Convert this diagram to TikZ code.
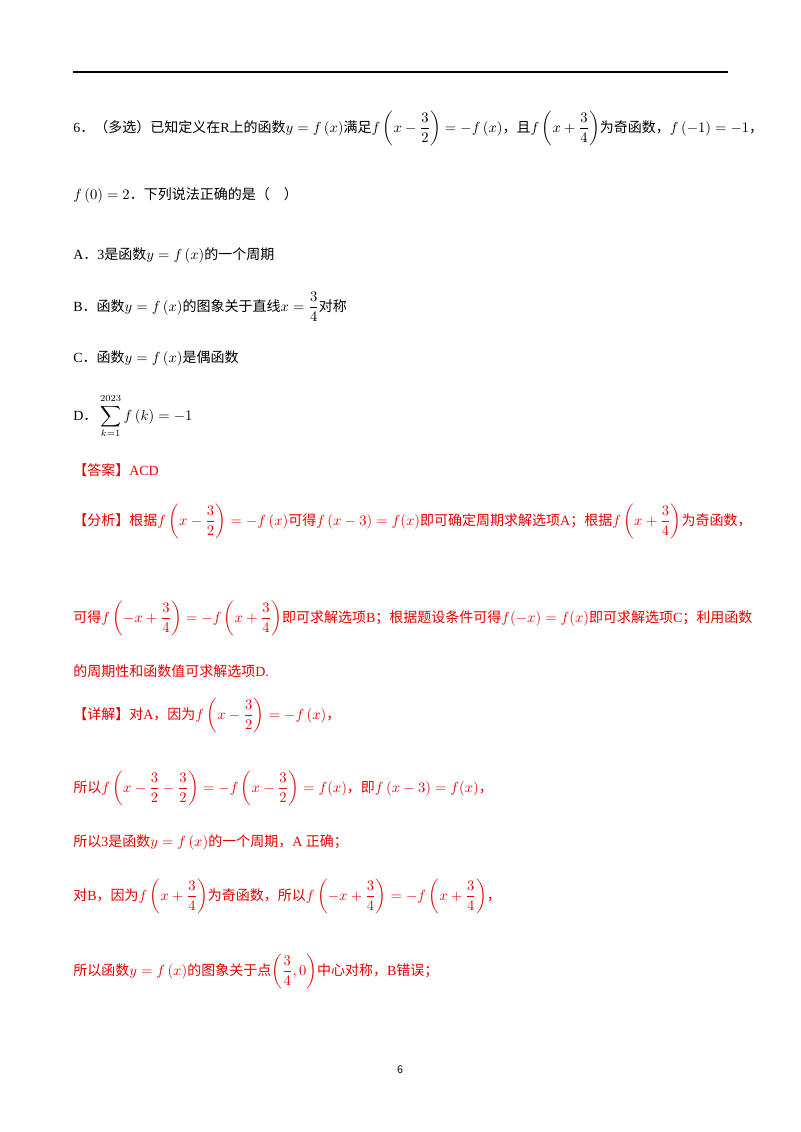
\documentclass[tikz,border=0pt]{standalone}
\usepackage{amsmath}
\usepackage{fontspec}
\setmainfont{Liberation Serif}
\newfontfamily\cjk{Noto Sans CJK SC}
\definecolor{ansred}{RGB}{230,0,0}
\begin{document}
\begin{tikzpicture}[x=0.75pt,y=-0.75pt,
  txt/.style={anchor=base west,inner sep=0pt,font=\fontsize{10.5}{12}\selectfont},
  rtxt/.style={txt,text=ansred}]
\useasboundingbox (0,0) rectangle (800,1132);
\draw[line width=1.2pt] (73,72) -- (728,72);
\node[txt] (l1) at (73,132) {6{\cjk．（多选）已知定义在}R{\cjk 上的函数}$y=f\left(x\right)$\cjk 满足$f\left(x-\dfrac{3}{2}\right)=-f\left(x\right)$，且$f\left(x+\dfrac{3}{4}\right)$为奇函数，$f\left(-1\right)=-1$，};
\node[txt] (l2) at (73,199) {$f\left(0\right)=2$\cjk．下列说法正确的是（\quad ）};
\node[txt] (a) at (73,259) {A\cjk．\rmfamily 3\cjk 是函数$y=f\left(x\right)$的一个周期};
\node[txt] (b) at (73,311) {B\cjk．函数$y=f\left(x\right)$的图象关于直线$x=\dfrac{3}{4}$对称};
\node[txt] (c) at (73,362) {C\cjk．函数$y=f\left(x\right)$是偶函数};
\node[txt] (d) at (73,420) {D\cjk．\hspace{2pt}$\displaystyle\sum_{k=1}^{2023}f\left(k\right)=-1$};
\node[rtxt] (ans) at (73,475) {\cjk【答案】\rmfamily ACD};
\node[rtxt] (f1) at (73,525) {\cjk【分析】根据$f\left(x-\dfrac{3}{2}\right)=-f\left(x\right)$可得$f\left(x-3\right)=f(x)$即可确定周期求解选项\rmfamily A\cjk；根据$f\left(x+\dfrac{3}{4}\right)$为奇函数，};
\node[rtxt] (f2) at (73,622) {\cjk 可得$f\left(-x+\dfrac{3}{4}\right)=-f\left(x+\dfrac{3}{4}\right)$即可求解选项\rmfamily B\cjk；根据题设条件可得$f(-x)=f(x)$即可求解选项\rmfamily C\cjk；利用函数};
\node[rtxt] (f3) at (73,676) {\cjk 的周期性和函数值可求解选项\rmfamily D.};
\node[rtxt] (x1) at (73,719) {\cjk【详解】对\rmfamily A\cjk，因为$f\left(x-\dfrac{3}{2}\right)=-f\left(x\right)$，};
\node[rtxt] (x2) at (73,792) {\cjk 所以$f\left(x-\dfrac{3}{2}-\dfrac{3}{2}\right)=-f\left(x-\dfrac{3}{2}\right)=f(x)$，即$f\left(x-3\right)=f(x)$，};
\node[rtxt] (x3) at (73,846) {\cjk 所以\rmfamily 3\cjk 是函数$y=f\left(x\right)$的一个周期，\rmfamily A \cjk 正确；};
\node[rtxt] (x4) at (73,900) {\cjk 对\rmfamily B\cjk，因为$f\left(x+\dfrac{3}{4}\right)$为奇函数，所以$f\left(-x+\dfrac{3}{4}\right)=-f\left(x+\dfrac{3}{4}\right)$，};
\node[rtxt] (x5) at (73,975) {\cjk 所以函数$y=f\left(x\right)$的图象关于点$\left(\dfrac{3}{4},0\right)$中心对称，\rmfamily B\cjk 错误；};
\node[anchor=base,inner sep=0pt,font=\fontsize{8}{9}\selectfont\cjk] (pg) at (400,1073) {6};
\end{tikzpicture}
\end{document}
